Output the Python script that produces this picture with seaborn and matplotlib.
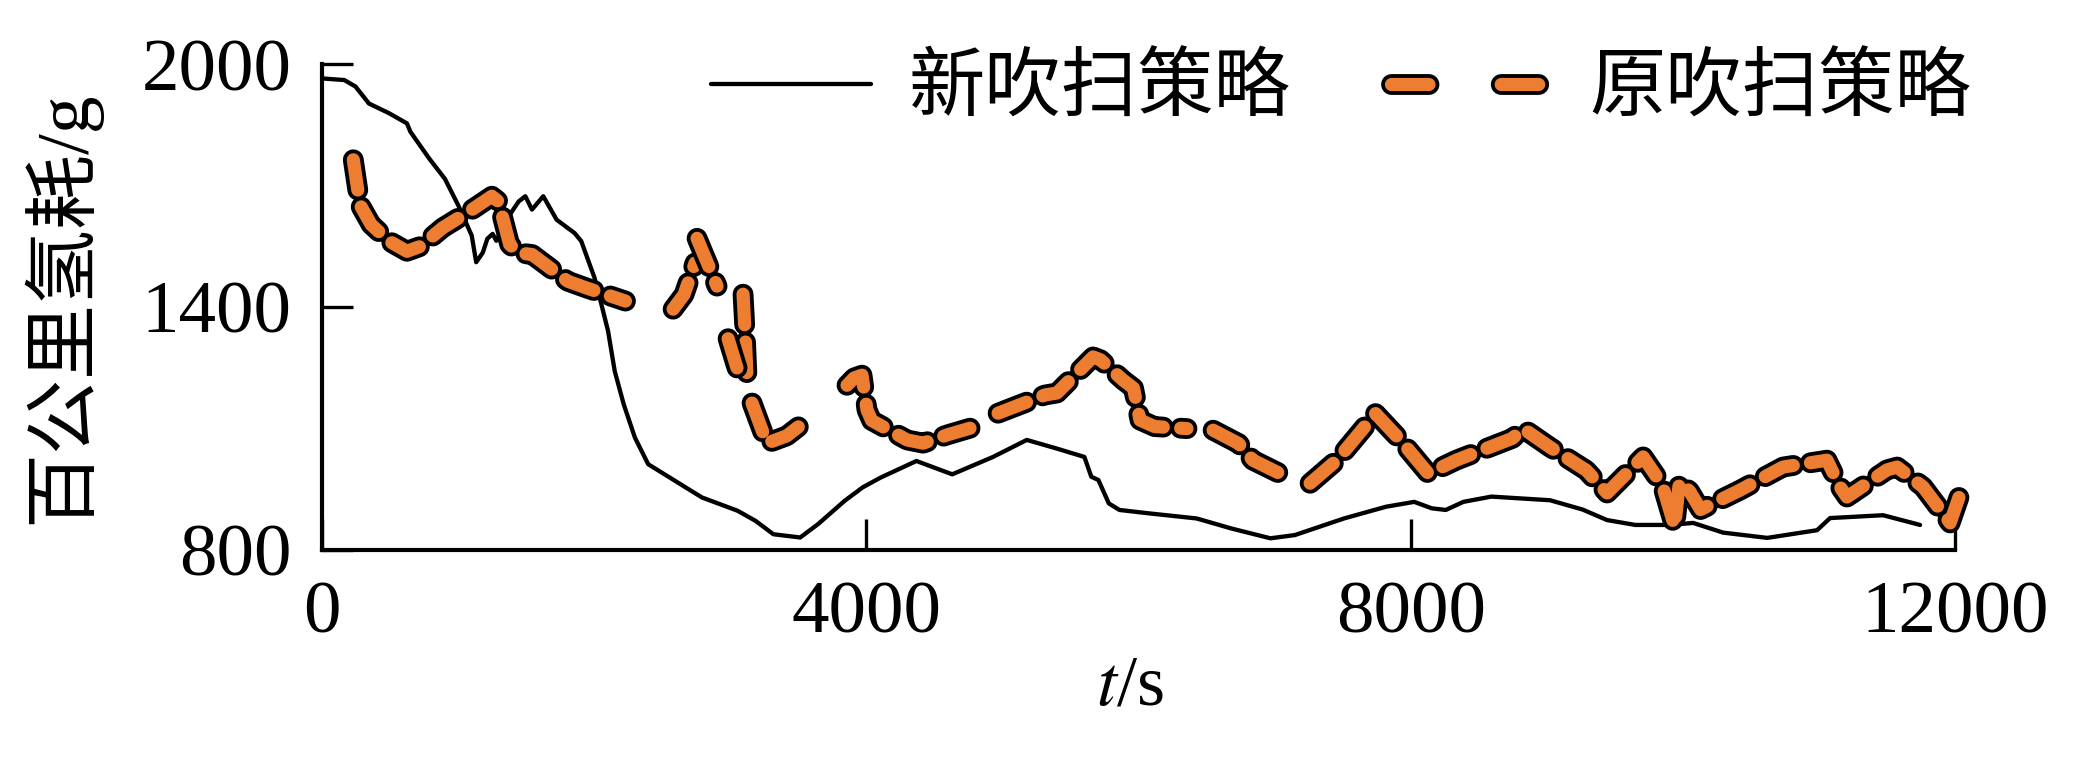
import numpy as np
import pandas as pd
import seaborn as sns
import matplotlib.pyplot as plt
import matplotlib.patheffects as pe
from matplotlib.lines import Line2D

# new purge strategy (solid black)
t_new = [0, 164, 246, 345, 493, 624, 650, 788, 903, 1002, 1100, 1133, 1182, 1215,
         1254, 1281, 1363, 1445, 1494, 1543, 1626, 1724, 1856, 1905, 2003, 2053,
         2102, 2151, 2217, 2299, 2397, 2594, 2791, 3054, 3186, 3317, 3514, 3645,
         3842, 3974, 4105, 4368, 4631, 4931, 5179, 5396, 5602, 5653, 5705, 5782,
         5860, 6066, 6427, 6685, 6969, 7149, 7510, 7819, 8026, 8155, 8258, 8387,
         8593, 9024, 9263, 9443, 9650, 9906, 10075, 10296, 10620, 10986, 11082,
         11471, 11743]
h_new = [1965, 1961, 1945, 1903, 1879, 1854, 1833, 1767, 1717, 1651, 1577, 1511, 1535, 1569,
         1581, 1564, 1620, 1661, 1674, 1641, 1674, 1616, 1583, 1563, 1472, 1407,
         1341, 1242, 1160, 1078, 1012, 971, 930, 897, 872, 839, 831, 864,
         922, 955, 979, 1020, 987, 1030, 1072, 1051, 1030, 981, 973, 915,
         899, 891, 878, 853, 829, 837, 878, 907, 919, 903, 899, 919,
         932, 923, 900, 874, 862, 862, 867, 843, 830, 849, 879,
         886, 862]

# original purge strategy (orange dashed), drawn in separate pieces
t_old = [230, 279, 361, 493, 624, 723, 887, 1084, 1248, 1297, 1379, 1445, 1544, 1806, 1938, 2230,
         2580, 2660, 2741,
         2756, 2903,
         3094, 3110, 3123,
         2984, 3040, 3072,
         3160, 3235, 3270, 3415, 3564,
         3858, 3910, 3968, 4005, 4039, 4299, 4417, 4600, 4762,
         4968, 5313, 5401, 5666, 5720, 5886, 5963, 6011, 6118, 6356,
         6548, 6736, 6840, 7135,
         7261, 7458, 7742, 7923, 8129, 8335, 8748, 8826, 9024, 9290, 9443, 9708, 9850,
         9940, 9975, 10050, 10130, 10420, 10736, 11059, 11155, 11206, 11500, 11574,
         11765, 11964, 12040]
h_old = [1764, 1653, 1604, 1563, 1538, 1550, 1596, 1637, 1674, 1661, 1555, 1534, 1530, 1464, 1448, 1415,
         1395, 1431, 1509,
         1570, 1452,
         1432, 1330, 1227,
         1322, 1260, 1227,
         1163, 1095, 1064, 1082, 1121,
         1207, 1225, 1232, 1146, 1120, 1072, 1064, 1085, 1101,
         1138, 1183, 1188, 1277, 1270, 1220, 1200, 1121, 1105, 1100,
         1096, 1063, 1022, 973,
         965, 1022, 1137, 1072, 989, 1022, 1076, 1100, 1054, 997, 941, 1030, 960,
         857, 970, 945, 900, 948, 1005, 1022, 956, 931, 998, 1005,
         956, 867, 941]
piece_old = [0] * 16 + [1] * 3 + [2] * 2 + [3] * 3 + [4] * 3 + [5] * 5 + [6] * 9 \
    + [7] * 10 + [8] * 4 + [9] * 27

legend_labels = ["新吹扫策略", "原吹扫策略"]
x_ticks = [0, 4000, 8000, 12000]
y_ticks = [800, 1400, 2000]

sns.set_theme(style="ticks")
plt.rcParams['font.family'] = ['Liberation Serif', 'Noto Sans CJK SC']
plt.rcParams['mathtext.fontset'] = 'stix'
plt.rcParams['lines.scale_dashes'] = False
for k in ['text.color', 'axes.labelcolor', 'axes.edgecolor', 'xtick.color', 'ytick.color']:
    plt.rcParams[k] = 'black'

ORANGE = '#ED7D31'
fig = plt.figure(figsize=(20.95, 7.65), dpi=100)
ax = fig.add_axes([0.1537, 0.281, 0.7795, 0.635])

sns.lineplot(x=t_new, y=h_new, ax=ax, color='black', linewidth=3.1,
             sort=False, estimator=None, clip_on=False)
n_before = len(ax.lines)
old_df = pd.DataFrame({'t': t_old, 'h': h_old, 'piece': piece_old})
sns.lineplot(data=old_df, x='t', y='h', units='piece', estimator=None, sort=False,
             ax=ax, color=ORANGE, linewidth=9.5, linestyle=(0, (22, 12.5)),
             dash_capstyle='round', solid_joinstyle='round', clip_on=False)
outline = [pe.Stroke(linewidth=15, foreground='black'), pe.Normal()]
for ln in ax.lines[n_before:]:
    ln.set_path_effects(outline)

ax.set_xlim(0, 12000)
ax.set_ylim(800, 2000)
ax.set_xticks(x_ticks)
ax.set_yticks(y_ticks)
sns.despine(ax=ax)
for s in ['left', 'bottom']:
    ax.spines[s].set_linewidth(3)
ax.tick_params(direction='in', length=22, width=2.4, labelsize=54, color='black')
ax.tick_params(axis='x', pad=22)
ax.tick_params(axis='y', pad=22)

ax.set_ylabel("百公里氢耗/g", fontsize=54)
ax.yaxis.set_label_coords(-0.136, 0.5)
ax.set_xlabel("$t$/s", fontsize=52)
ax.xaxis.set_label_coords(0.4945, -0.215)

handles = [
    Line2D([], [], color='black', lw=3.1),
    Line2D([], [], color=ORANGE, lw=9.5, linestyle=(0, (27, 52)),
           dash_capstyle='round', path_effects=outline),
]
ax.legend(handles, legend_labels, ncol=2, frameon=False, fontsize=55,
          loc='center right', bbox_to_anchor=(1971 / 2095, 1 - 91 / 765),
          bbox_transform=fig.transFigure, handlelength=2.1, handletextpad=0.5,
          columnspacing=1.3, borderpad=0, borderaxespad=0)

fig.savefig('out.png', dpi=100)
